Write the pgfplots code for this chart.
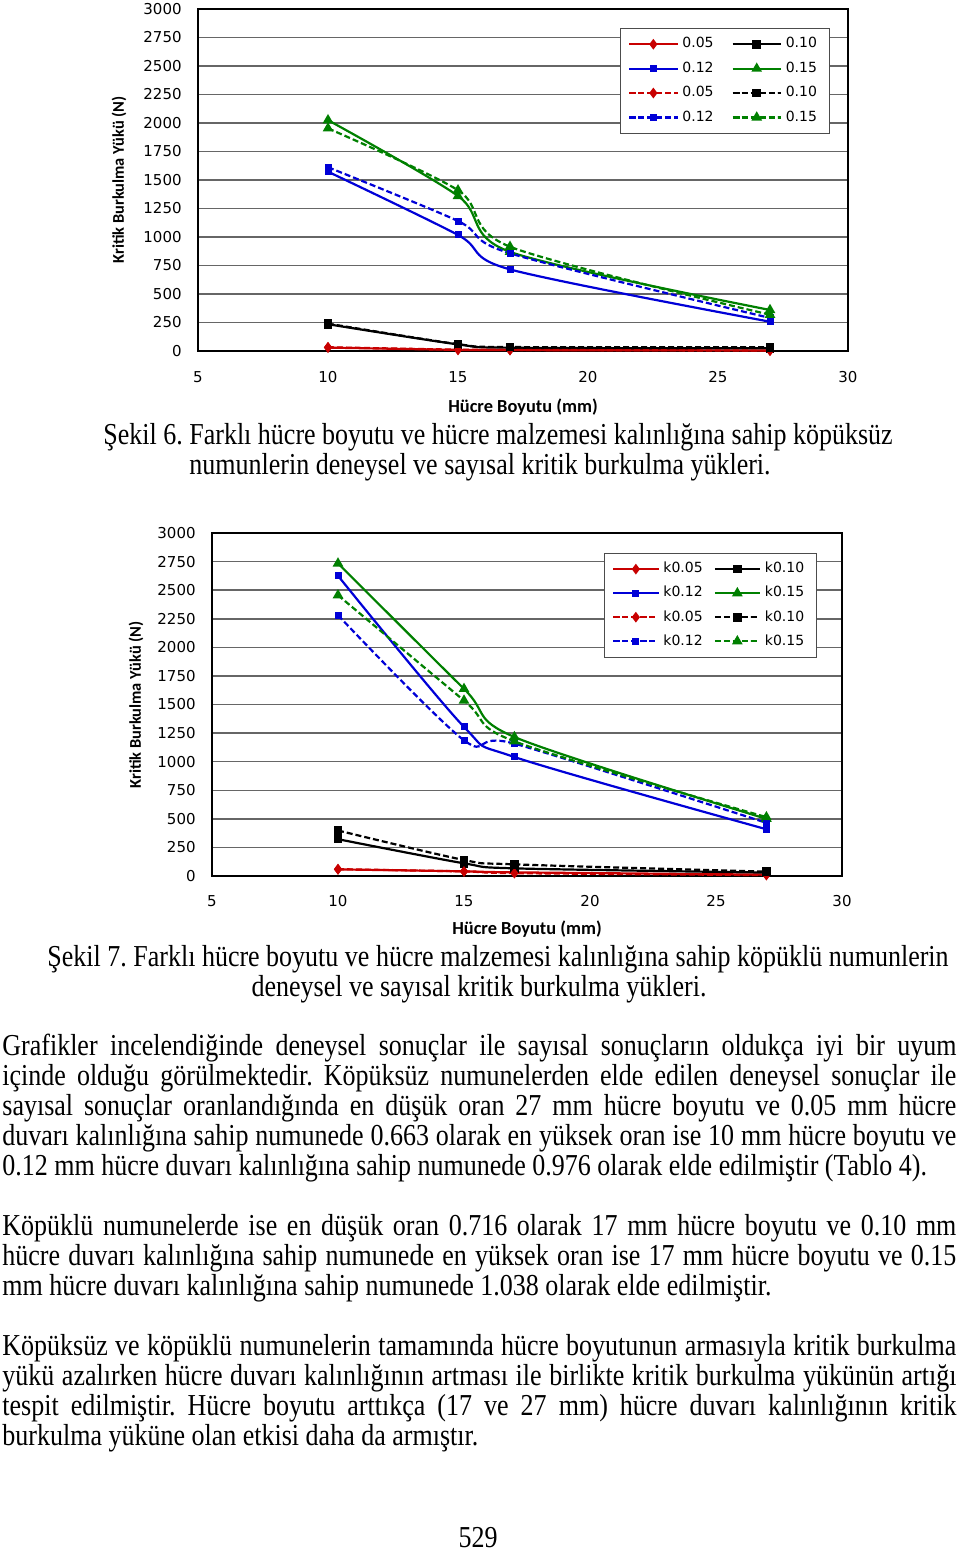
\documentclass[border=0pt]{standalone}
\usepackage{pgfplots}
\pgfplotsset{compat=1.18}
\usepackage{fontspec}
\setmainfont{Liberation Serif}
\newfontfamily\dv{DejaVu Sans}
\newfontfamily\cb{Carlito}
\definecolor{cred}{RGB}{200,0,0}
\definecolor{cblue}{RGB}{0,0,215}
\definecolor{cgreen}{RGB}{0,128,0}
\pgfplotsset{
 kchart/.style={
  scale only axis, xmin=5,xmax=30,ymin=0,ymax=3000,
  xtick={5,10,...,30}, ytick={0,250,...,3000},
  ymajorgrids, major grid style={black!60,line width=0.75pt},
  major tick length=0pt,
  axis line style={black,line width=0.8pt},
  tick label style={font=\dv\fontsize{7.5}{9}\selectfont,/pgf/number format/assume math mode=true,/pgf/number format/1000 sep={}},
  yticklabel style={anchor=east,inner sep=0pt,xshift=-8pt},
  xticklabel style={anchor=north,inner sep=0pt,yshift=-10pt},
  legend columns=2,
  legend cell align=left,
  legend style={font=\dv\fontsize{7}{8}\selectfont, draw=black!70, inner xsep=4pt, inner ysep=2.5pt, row sep=1.5pt, /tikz/every even column/.append style={column sep=7pt}},
  legend image code/.code={\draw[mark repeat=2,mark phase=2] plot coordinates {(0pt,0pt) (12pt,0pt) (24pt,0pt)};},
  every axis plot/.append style={line width=1.1pt, smooth, tension=0.5},
 },
 sred/.style={cred, mark=diamond*, mark size=1.8pt},
 sblack/.style={black, mark=square*, mark size=1.6pt},
 sblue/.style={cblue, mark=square*, mark size=1.2pt},
 sgreen/.style={cgreen, mark=triangle*, mark size=2pt},
 dsh/.style={dash pattern=on 3pt off 1.5pt, mark options={solid}},
}
\newcommand\Tfont{\fontsize{13}{15}\selectfont\frenchspacing}
\newcommand\TJ[2]{\node[anchor=base west,inner sep=0pt] at (2,#1) {\scalebox{1}[1.17]{\makebox[477pt][s]{\Tfont #2}}};}
\newcommand\TLl[2]{\node[anchor=base west,inner sep=0pt] at (2,#1) {\scalebox{1}[1.17]{\Tfont #2}};}
\newcommand\TC[3]{\node[anchor=base,inner sep=0pt] at (#1,#2) {\scalebox{1}[1.17]{\Tfont #3}};}
\begin{document}
\begin{tikzpicture}[x=0.5pt,y=-0.5pt]
\path[use as bounding box] (0,0) rectangle (960,1553);
% ---------- Chart 1 ----------
\begin{axis}[kchart, at={(99pt,-175.5pt)}, anchor=south west, width=325pt, height=171pt,
  legend style={at={(0.649,0.944)},anchor=north west}]
\addplot[sred] coordinates {(10,30) (15,10) (17,8) (27,5)};
\addlegendentry{0.05}
\addplot[sblack] coordinates {(10,235) (15,58) (17,29) (27,24)};
\addlegendentry{0.10}
\addplot[sblue] coordinates {(10,1573) (15,1018) (17,716) (27,257)};
\addlegendentry{0.12}
\addplot[sgreen] coordinates {(10,2025) (15,1360) (17,870) (27,360)};
\addlegendentry{0.15}
\addplot[sred,dsh] coordinates {(10,33) (15,12) (17,10) (27,3)};
\addlegendentry{0.05}
\addplot[sblack,dsh] coordinates {(10,240) (15,60) (17,35) (27,33)};
\addlegendentry{0.10}
\addplot[sblue,dsh] coordinates {(10,1612) (15,1140) (17,857) (27,290)};
\addlegendentry{0.12}
\addplot[sgreen,dsh] coordinates {(10,1953) (15,1410) (17,915) (27,318)};
\addlegendentry{0.15}
\end{axis}
\node[font=\cb\bfseries\fontsize{9.2}{10}\selectfont] at (523,407) {Hücre Boyutu (mm)};
\node[font=\cb\bfseries\fontsize{8.2}{10}\selectfont,rotate=90] at (119,180) {Kritik Burkulma Yükü (N)};
% ---------- Chart 2 ----------
\begin{axis}[kchart, at={(106pt,-438pt)}, anchor=south west, width=315pt, height=171.5pt,
  xticklabel style={yshift=0.5pt},
  legend image code/.code={\draw[mark repeat=2,mark phase=2] plot coordinates {(0pt,0pt) (11.25pt,0pt) (22.5pt,0pt)};},
  legend style={at={(0.622,0.942)},anchor=north west, row sep=1.2pt, /tikz/every even column/.append style={column sep=3.5pt}}]
\addplot[sred] coordinates {(10,58) (15,41) (17,32) (27,12)};
\addlegendentry{k0.05}
\addplot[sblack] coordinates {(10,322) (15,111) (17,67) (27,30)};
\addlegendentry{k0.10}
\addplot[sblue] coordinates {(10,2626) (15,1304) (17,1041) (27,409)};
\addlegendentry{k0.12}
\addplot[sgreen] coordinates {(10,2734) (15,1637) (17,1216) (27,500)};
\addlegendentry{k0.15}
\addplot[sred,dsh] coordinates {(10,60) (15,40) (17,25) (27,8)};
\addlegendentry{k0.05}
\addplot[sblack,dsh] coordinates {(10,398) (15,140) (17,102) (27,38)};
\addlegendentry{k0.10}
\addplot[sblue,dsh] coordinates {(10,2281) (15,1187) (17,1158) (27,465)};
\addlegendentry{k0.12}
\addplot[sgreen,dsh] coordinates {(10,2456) (15,1535) (17,1178) (27,515)};
\addlegendentry{k0.15}
\end{axis}
\node[font=\cb\bfseries\fontsize{9.2}{10}\selectfont] at (527,929) {Hücre Boyutu (mm)};
\node[font=\cb\bfseries\fontsize{8.2}{10}\selectfont,rotate=90] at (136,705) {Kritik Burkulma Yükü (N)};
% ---------- Captions ----------
\TC{498}{444}{Şekil 6. Farklı hücre boyutu ve hücre malzemesi kalınlığına sahip köpüksüz}
\TC{480}{474}{numunlerin deneysel ve sayısal kritik burkulma yükleri.}
\TC{498}{966}{Şekil 7. Farklı hücre boyutu ve hücre malzemesi kalınlığına sahip köpüklü numunlerin}
\TC{479}{996}{deneysel ve sayısal kritik burkulma yükleri.}
% ---------- Paragraphs ----------
\TJ{1055}{Grafikler incelendiğinde deneysel sonuçlar ile sayısal sonuçların oldukça iyi bir uyum}
\TJ{1085}{içinde olduğu görülmektedir. Köpüksüz numunelerden elde edilen deneysel sonuçlar ile}
\TJ{1115}{sayısal sonuçlar oranlandığında en düşük oran 27 mm hücre boyutu ve 0.05 mm hücre}
\TJ{1145}{duvarı kalınlığına sahip numunede 0.663 olarak en yüksek oran ise 10 mm hücre boyutu ve}
\TLl{1175}{0.12 mm hücre duvarı kalınlığına sahip numunede 0.976 olarak elde edilmiştir (Tablo 4).}
\TJ{1235}{Köpüklü numunelerde ise en düşük oran 0.716 olarak 17 mm hücre boyutu ve 0.10 mm}
\TJ{1265}{hücre duvarı kalınlığına sahip numunede en yüksek oran ise 17 mm hücre boyutu ve 0.15}
\TLl{1295}{mm hücre duvarı kalınlığına sahip numunede 1.038 olarak elde edilmiştir.}
\TJ{1355}{Köpüksüz ve köpüklü numunelerin tamamında hücre boyutunun armasıyla kritik burkulma}
\TJ{1385}{yükü azalırken hücre duvarı kalınlığının artması ile birlikte kritik burkulma yükünün artığı}
\TJ{1415}{tespit edilmiştir. Hücre boyutu arttıkça (17 ve 27 mm) hücre duvarı kalınlığının kritik}
\TLl{1445}{burkulma yüküne olan etkisi daha da armıştır.}
\TC{478}{1547}{529}
\end{tikzpicture}
\end{document}
